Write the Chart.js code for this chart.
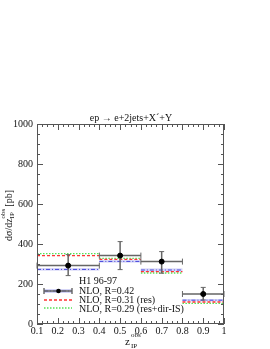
<!DOCTYPE html>
<html>
<head>
<meta charset="utf-8">
<script src="https://cdn.jsdelivr.net/npm/chart.js@4"></script>
<style>
  html, body { margin: 0; padding: 0; background: #fff; }
  #wrap { width: 270px; height: 349px; }
</style>
</head>
<body>
<div id="wrap"><canvas id="chart" width="270" height="349"></canvas></div>
<script>
// Bins in z_IP^obs
const binLo = [0.1, 0.4, 0.6, 0.8];
const binHi = [0.4, 0.6, 0.8, 1.0];
const binCenter = [0.25, 0.5, 0.7, 0.9];

// H1 96-97 data
const h1Values = [292, 342, 312, 150];
const h1ErrUp = [55, 70, 50, 33];
const h1ErrDown = [50, 70, 58, 30];

// NLO predictions
const nlo042 = [273, 313, 270, 119];
const nlo042Band = [6, 6, 8, 6];
const nlo031 = [342, 323, 262, 110];
const nlo029 = [352, 328, 255, 103];

const xTicks = [0.1, 0.2, 0.3, 0.4, 0.5, 0.6, 0.7, 0.8, 0.9, 1.0];
const yTicks = [0, 200, 400, 600, 800, 1000];

const FONT = "'Liberation Serif', 'DejaVu Serif', serif";
const BLUE = "#4444dd";
const BAND = "rgba(160,160,235,0.45)";
const RED = "#ff3333";
const GREEN = "#55e055";

// Build step lines, one flat segment per bin, broken between bins
function steps(vals) {
  const pts = [];
  vals.forEach((v, i) => {
    pts.push({ x: binLo[i], y: v }, { x: binHi[i], y: v }, { x: binHi[i], y: null });
  });
  return pts;
}

function stepDataset(label, vals, color, dash, width) {
  return {
    type: 'line', label: label, data: steps(vals),
    borderColor: color, borderWidth: width, borderDash: dash,
    pointRadius: 0, fill: false, spanGaps: false, order: 2
  };
}

// Blue uncertainty band, error bars, inward ticks, frame and texts
const decorPlugin = {
  id: 'decor',
  beforeDatasetsDraw(chart) {
    const { ctx, scales: { x, y } } = chart;
    ctx.save();
    ctx.fillStyle = BAND;
    nlo042.forEach((v, i) => {
      const x0 = x.getPixelForValue(binLo[i]), x1 = x.getPixelForValue(binHi[i]);
      const y0 = y.getPixelForValue(v + nlo042Band[i]), y1 = y.getPixelForValue(v - nlo042Band[i]);
      ctx.fillRect(x0, y0, x1 - x0, y1 - y0);
    });
    ctx.restore();
  },
  beforeDatasetDraw(chart, args) {
    if (args.index !== 0) return;
    // error bars for the H1 data, drawn under the markers
    const { ctx, scales: { x, y } } = chart;
    ctx.save();
    ctx.strokeStyle = "#666";
    h1Values.forEach((v, i) => {
      const xc = x.getPixelForValue(binCenter[i]);
      const yc = y.getPixelForValue(v);
      const xl = x.getPixelForValue(binLo[i]), xr = x.getPixelForValue(binHi[i]);
      const yt = y.getPixelForValue(v + h1ErrUp[i]), yb = y.getPixelForValue(v - h1ErrDown[i]);
      ctx.lineWidth = 1.5;
      ctx.beginPath();
      ctx.moveTo(xl, yc); ctx.lineTo(xr, yc);
      ctx.moveTo(xc, yt); ctx.lineTo(xc, yb);
      ctx.stroke();
      ctx.lineWidth = 1;
      ctx.beginPath();
      ctx.moveTo(xl, yc - 3); ctx.lineTo(xl, yc + 3);
      ctx.moveTo(xr, yc - 3); ctx.lineTo(xr, yc + 3);
      ctx.moveTo(xc - 2.5, yt); ctx.lineTo(xc + 2.5, yt);
      ctx.moveTo(xc - 2.5, yb); ctx.lineTo(xc + 2.5, yb);
      ctx.stroke();
    });
    ctx.restore();
  },
  afterDraw(chart) {
    const { ctx, chartArea: a, scales: { x, y } } = chart;
    ctx.save();
    // frame
    ctx.strokeStyle = "#555";
    ctx.lineWidth = 1;
    ctx.strokeRect(a.left + 0.5, a.top + 0.5, a.right - a.left - 1, a.bottom - a.top - 1);

    // inward ticks
    ctx.beginPath();
    for (let v = 0.1; v <= 1.0001; v += 0.025) {
      const px = Math.round(x.getPixelForValue(v)) + 0.5;
      const major = Math.abs(v * 10 - Math.round(v * 10)) < 1e-6;
      const len = major ? 6 : 3;
      ctx.moveTo(px, a.bottom); ctx.lineTo(px, a.bottom - len);
      ctx.moveTo(px, a.top); ctx.lineTo(px, a.top + len);
    }
    for (let v = 0; v <= 1000; v += 50) {
      const py = Math.round(y.getPixelForValue(v)) + 0.5;
      const len = v % 200 === 0 ? 6 : 3;
      ctx.moveTo(a.left, py); ctx.lineTo(a.left + len, py);
      ctx.moveTo(a.right, py); ctx.lineTo(a.right - len, py);
    }
    ctx.stroke();

    ctx.fillStyle = "#111";
    ctx.textBaseline = "middle";

    // title
    ctx.font = "10px " + FONT;
    ctx.textAlign = "center";
    ctx.fillText("ep \u2192 e+2jets+X\u00b4+Y", 131, 118);

    // x axis title z_IP^obs
    ctx.textAlign = "left";
    ctx.font = "11px " + FONT;
    ctx.fillText("z", 125, 342);
    ctx.font = "7px " + FONT;
    ctx.fillText("IP", 131, 346);
    ctx.fillText("obs", 131, 335.5);

    // y axis title, rotated
    ctx.save();
    ctx.translate(9, 212);
    ctx.rotate(-Math.PI / 2);
    ctx.textAlign = "left";
    ctx.font = "10px " + FONT;
    let tx = -29;
    ctx.fillText("d\u03c3/dz", tx, 0);
    tx += ctx.measureText("d\u03c3/dz").width;
    ctx.font = "7px " + FONT;
    ctx.fillText("IP", tx, 3.5);
    ctx.fillText("obs", tx, -6);
    tx += ctx.measureText("obs").width + 2;
    ctx.font = "10px " + FONT;
    ctx.fillText("[pb]", tx, 0);
    ctx.restore();

    // legend
    ctx.font = "10px " + FONT;
    ctx.textAlign = "left";
    ctx.fillText("H1 96-97", 79, 281);
    ctx.fillText("NLO, R=0.42", 79, 291);
    ctx.fillText("NLO, R=0.31 (res)", 79, 300);
    ctx.fillText("NLO, R=0.29 (res+dir-IS)", 79, 309);

    const lx0 = 44, lx1 = 72;
    ctx.fillStyle = BAND;
    ctx.fillRect(lx0, 289, lx1 - lx0, 4);
    ctx.strokeStyle = BLUE;
    ctx.lineWidth = 1;
    ctx.setLineDash([4, 2, 1, 2]);
    ctx.beginPath(); ctx.moveTo(lx0, 291); ctx.lineTo(lx1, 291); ctx.stroke();
    ctx.strokeStyle = "#666";
    ctx.lineWidth = 1.4;
    ctx.setLineDash([]);
    ctx.beginPath();
    ctx.moveTo(lx0, 291); ctx.lineTo(lx1, 291);
    ctx.moveTo(lx0, 288); ctx.lineTo(lx0, 294);
    ctx.moveTo(lx1, 288); ctx.lineTo(lx1, 294);
    ctx.stroke();
    ctx.fillStyle = "#000";
    ctx.beginPath(); ctx.arc(58.5, 291, 2.3, 0, Math.PI * 2); ctx.fill();

    ctx.lineWidth = 1.3;
    ctx.strokeStyle = RED;
    ctx.setLineDash([3, 2]);
    ctx.beginPath(); ctx.moveTo(lx0, 300); ctx.lineTo(lx1, 300); ctx.stroke();
    ctx.strokeStyle = GREEN;
    ctx.setLineDash([1.5, 1.5]);
    ctx.beginPath(); ctx.moveTo(lx0, 308); ctx.lineTo(lx1, 308); ctx.stroke();
    ctx.restore();
  }
};

new Chart(document.getElementById('chart'), {
  type: 'scatter',
  data: {
    datasets: [
      {
        label: 'H1 96-97',
        data: binCenter.map((c, i) => ({ x: c, y: h1Values[i] })),
        pointRadius: 2.5, pointBackgroundColor: '#000', pointBorderColor: '#000',
        showLine: false, order: 1
      },
      stepDataset('NLO, R=0.42', nlo042, BLUE, [4, 2, 1, 2], 1),
      stepDataset('NLO, R=0.31 (res)', nlo031, RED, [3, 2], 1.3),
      stepDataset('NLO, R=0.29 (res+dir-IS)', nlo029, GREEN, [1.5, 1.5], 1.3)
    ]
  },
  options: {
    responsive: false,
    animation: false,
    devicePixelRatio: 1,
    layout: { padding: { top: 124, right: 46, left: 0, bottom: 0 } },
    plugins: { legend: { display: false }, tooltip: { enabled: false }, title: { display: false } },
    scales: {
      x: {
        type: 'linear', min: 0.1, max: 1.0,
        afterFit: s => { s.height = 25; },
        afterBuildTicks: s => { s.ticks = xTicks.map(v => ({ value: v })); },
        grid: { display: false, drawTicks: false },
        border: { display: false },
        ticks: {
          padding: 1, color: '#111', font: { family: FONT, size: 10 },
          maxRotation: 0, autoSkip: false,
          callback: v => (Math.abs(v - 1) < 1e-6 ? '1' : Number(v).toFixed(1))
        }
      },
      y: {
        min: 0, max: 1000,
        afterFit: s => { s.width = 37; },
        afterBuildTicks: s => { s.ticks = yTicks.map(v => ({ value: v })); },
        grid: { display: false, drawTicks: false },
        border: { display: false },
        ticks: { padding: 4, color: '#111', font: { family: FONT, size: 10 }, callback: v => String(v) }
      }
    }
  },
  plugins: [decorPlugin]
});
</script>
</body>
</html>
